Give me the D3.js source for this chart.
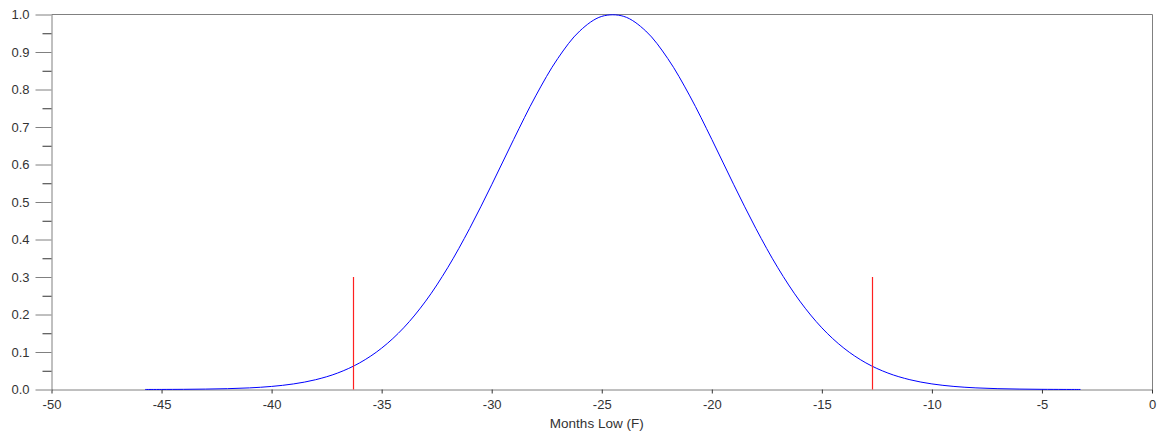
<!DOCTYPE html>
<html>
<head>
<meta charset="utf-8">
<script src="https://d3js.org/d3.v7.min.js"></script>
<style>
  body { margin: 0; background: #fff; }
  text { font-family: "Liberation Sans", Arial, sans-serif; font-size: 13px; fill: #333; }
</style>
</head>
<body>
<svg width="1157" height="436"></svg>
<script>
// curve points (x in F, y height)
var curveX = [-45.75, -45, -44, -43, -42, -41, -40, -39, -38, -37, -36, -35, -34, -33, -32, -31, -30, -29, -28, -27, -26, -25,
              -24, -23, -22, -21, -20, -19, -18, -17, -16, -15, -14, -13, -12, -11, -10, -9, -8, -7, -6, -5, -4, -3.25];
var curveY = [0.0001, 0.0002, 0.0005, 0.0011, 0.0022, 0.0043, 0.0082, 0.0149, 0.0261, 0.0439, 0.071, 0.1103, 0.1645, 0.2357, 0.3247, 0.4296, 0.546, 0.667, 0.783, 0.8825, 0.956, 0.995,
              0.995, 0.956, 0.8825, 0.783, 0.667, 0.546, 0.4296, 0.3247, 0.2357, 0.1645, 0.1103, 0.071, 0.0439, 0.0261, 0.0149, 0.0082, 0.0043, 0.0022, 0.0011, 0.0005, 0.0002, 0.0001];
// red marker lines
var markX = [-36.3, -12.7];
var markTop = 0.3;
var xTicks = [-50, -45, -40, -35, -30, -25, -20, -15, -10, -5, 0];
var yTicks = [0, 0.1, 0.2, 0.3, 0.4, 0.5, 0.6, 0.7, 0.8, 0.9, 1.0];
var yMinor = [0.05, 0.15, 0.25, 0.35, 0.45, 0.55, 0.65, 0.75, 0.85, 0.95];
var xTitle = "Months Low (F)";

var svg = d3.select("svg");
var pLeft = 51.5, pRight = 1152, pTop = 14.5, pBottom = 389.5;
var x = d3.scaleLinear().domain([-50, 0]).range([pLeft, pRight]);
var y = d3.scaleLinear().domain([0, 1]).range([pBottom, pTop]);
var axisColor = "#808080";
var fontFam = "Liberation Sans, Arial, sans-serif";

// frame top + right
svg.append("line").attr("x1", pLeft).attr("x2", pRight + 0.5).attr("y1", pTop).attr("y2", pTop)
    .attr("stroke", axisColor);
svg.append("line").attr("x1", pRight + 0.5).attr("x2", pRight + 0.5).attr("y1", pTop).attr("y2", pBottom)
    .attr("stroke", axisColor);

// x axis
var xa = svg.append("g").attr("transform", "translate(0," + pBottom + ")")
    .call(d3.axisBottom(x).tickValues(xTicks).tickSizeInner(4).tickSizeOuter(0).tickPadding(6)
        .tickFormat(function(d) { return String(d); }));
xa.select(".domain").attr("stroke", axisColor);
xa.selectAll(".tick line").attr("stroke", "#333");
xa.selectAll("text").style("font-size", "13px").attr("fill", "#333").style("font-family", fontFam);

// y axis
var ya = svg.append("g").attr("transform", "translate(" + pLeft + ",0)")
    .call(d3.axisLeft(y).tickValues(yTicks).tickSizeInner(16).tickSizeOuter(0).tickPadding(6)
        .tickFormat(d3.format(".1f")));
ya.select(".domain").attr("stroke", axisColor);
ya.selectAll(".tick line").attr("stroke", axisColor);
ya.selectAll("text").style("font-size", "13px").attr("fill", "#333").style("font-family", fontFam);
var ym = svg.append("g").attr("transform", "translate(" + pLeft + ",0)")
    .call(d3.axisLeft(y).tickValues(yMinor).tickSize(9).tickFormat(""));
ym.select(".domain").remove();
ym.selectAll(".tick line").attr("stroke", "#333");

// curve
var pts = curveX.map(function(v, i) { return [v, curveY[i]]; });
var line = d3.line().x(function(d) { return x(d[0]); }).y(function(d) { return y(d[1]); })
    .curve(d3.curveCatmullRom);
svg.append("path").datum(pts).attr("d", line)
    .attr("fill", "none").attr("stroke", "#0000ff").attr("stroke-width", 1);

// red markers
svg.append("g").selectAll("line").data(markX).join("line")
    .attr("class", "mark")
    .attr("x1", function(d) { return Math.round(x(d)) + 0.5; })
    .attr("x2", function(d) { return Math.round(x(d)) + 0.5; })
    .attr("y1", y(0)).attr("y2", y(markTop))
    .style("stroke", "#ff2020").style("stroke-width", "1.2px");

svg.append("text").text(xTitle)
    .attr("x", (pLeft + pRight) / 2 - 5).attr("y", 428)
    .attr("text-anchor", "middle")
    .style("font-size", "13.5px");
</script>
</body>
</html>
